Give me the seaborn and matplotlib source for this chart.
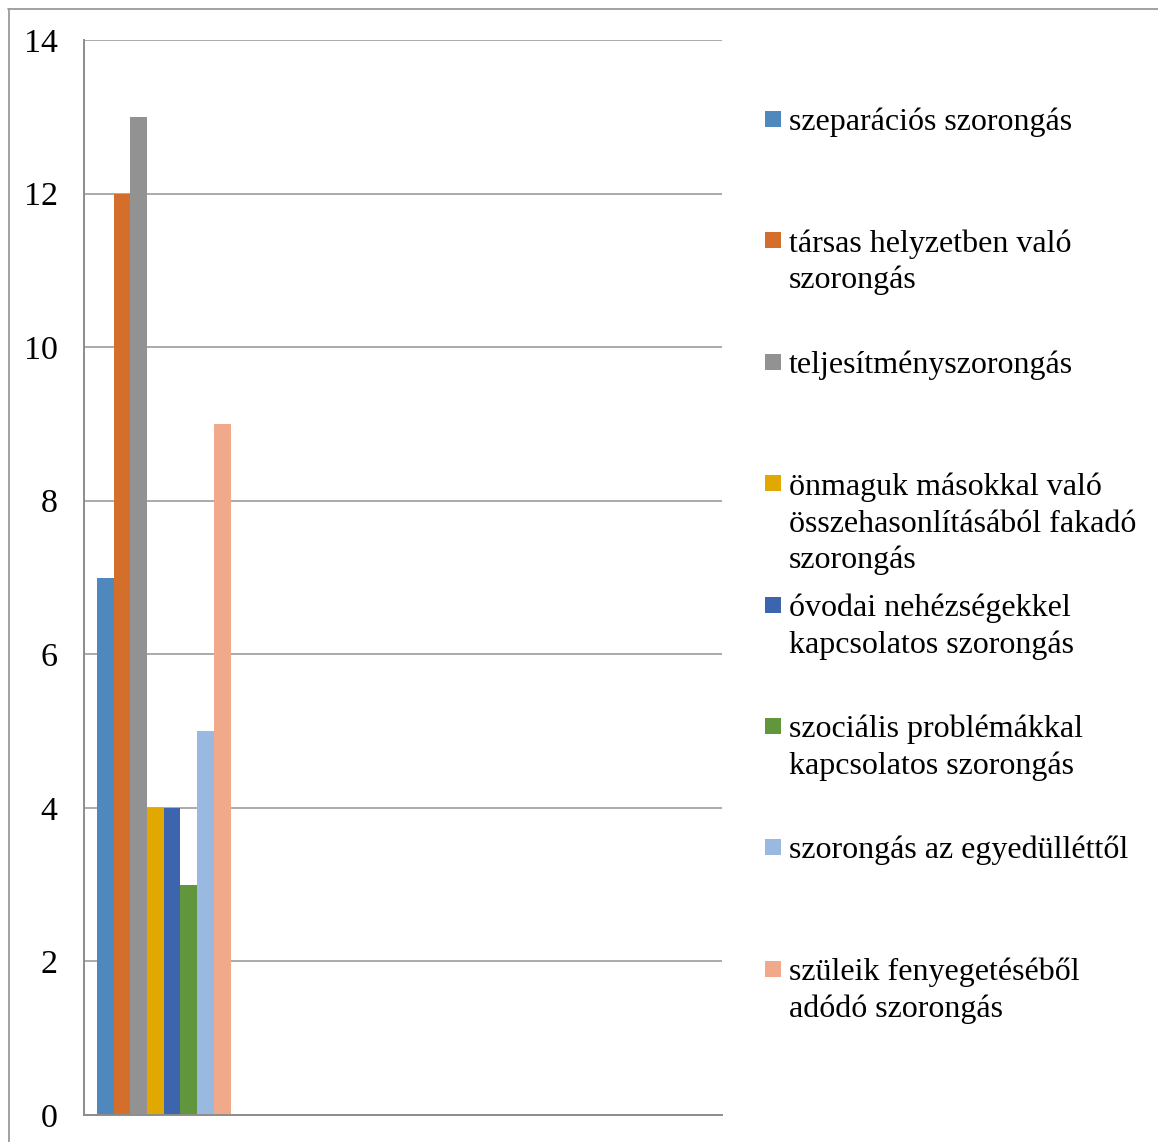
import pandas as pd
import matplotlib.pyplot as plt
import seaborn as sns
from matplotlib.patches import Rectangle
from matplotlib.lines import Line2D

categories = ['1', '2', '3', '4']
series = ['szeparációs szorongás',
          'társas helyzetben való szorongás',
          'teljesítményszorongás',
          'önmaguk másokkal való összehasonlításából fakadó szorongás',
          'óvodai nehézségekkel kapcsolatos szorongás',
          'szociális problémákkal kapcsolatos szorongás',
          'szorongás az egyedülléttől',
          'szüleik fenyegetéséből adódó szorongás']
values = [7, 12, 13, 4, 4, 3, 5, 9]
legend_labels = ['szeparációs szorongás',
                 'társas helyzetben való\nszorongás',
                 'teljesítményszorongás',
                 'önmaguk másokkal való\nösszehasonlításából fakadó\nszorongás',
                 'óvodai nehézségekkel\nkapcsolatos szorongás',
                 'szociális problémákkal\nkapcsolatos szorongás',
                 'szorongás az egyedülléttől',
                 'szüleik fenyegetéséből\nadódó szorongás']
colors = ['#4f88bc', '#d46f2b', '#929292', '#e0a800',
          '#3c65ad', '#62963c', '#99b9e0', '#f1a98b']

data = pd.DataFrame({'kategoria': categories[0], 'sorozat': series, 'ertek': values})

sns.set_style('white')
plt.rcParams['font.family'] = ['Liberation Serif', 'DejaVu Serif']
plt.rcParams['text.color'] = 'black'

W, H = 1158, 1142
fig = plt.figure(figsize=(W / 100, H / 100), dpi=100)
ax = fig.add_axes([84 / W, 1 - 1115 / H, (722 - 84) / W, (1115 - 40) / H])

sns.barplot(data=data, x='kategoria', y='ertek', hue='sorozat', order=categories,
            hue_order=series, palette=colors, width=0.84, saturation=1,
            linewidth=0, ax=ax, legend=False)

ax.set_xlim(-0.5, 3.5)
ax.set_ylim(0, 14)
ax.set_yticks(range(0, 15, 2))
ax.set_xticks([-0.5, 0.5, 1.5, 2.5, 3.5])
ax.set_xticklabels([])
ax.set_xlabel('')
ax.set_ylabel('')
ax.yaxis.grid(True, color='#aaaaaa', linewidth=1.4)
ax.set_axisbelow(True)
for s in ['top', 'right']:
    ax.spines[s].set_visible(False)
for s in ['left', 'bottom']:
    ax.spines[s].set_color('#8c8c8c')
    ax.spines[s].set_linewidth(1.4)
ax.tick_params(axis='y', length=12, width=1.4, color='#aaaaaa', labelsize=24.5,
               labelcolor='black', pad=7)
ax.tick_params(axis='x', length=9, width=1.4, color='#8c8c8c', direction='out')

# legend drawn on the right
y0 = 130
step = 121.4
line_h = 37
for i, (lab, c) in enumerate(zip(legend_labels, colors)):
    yb = y0 + i * step
    n = lab.count('\n')
    fig.add_artist(Rectangle((765 / W, 1 - (yb - 3) / H), 16 / W, 16 / H,
                             transform=fig.transFigure, color=c, lw=0))
    fig.text(789 / W, 1 - (yb + n * line_h) / H, lab, fontsize=23, va='baseline',
             ha='left', linespacing=1.32, color='black')

# chart frame
fig.add_artist(Line2D([8 / W, 1], [1 - 8.5 / H, 1 - 8.5 / H], transform=fig.transFigure,
                      color='#9a9a9a', lw=1.3))
fig.add_artist(Line2D([8.5 / W, 8.5 / W], [0, 1 - 8.5 / H], transform=fig.transFigure,
                      color='#9a9a9a', lw=1.3))

fig.savefig('out.png', dpi=100)
